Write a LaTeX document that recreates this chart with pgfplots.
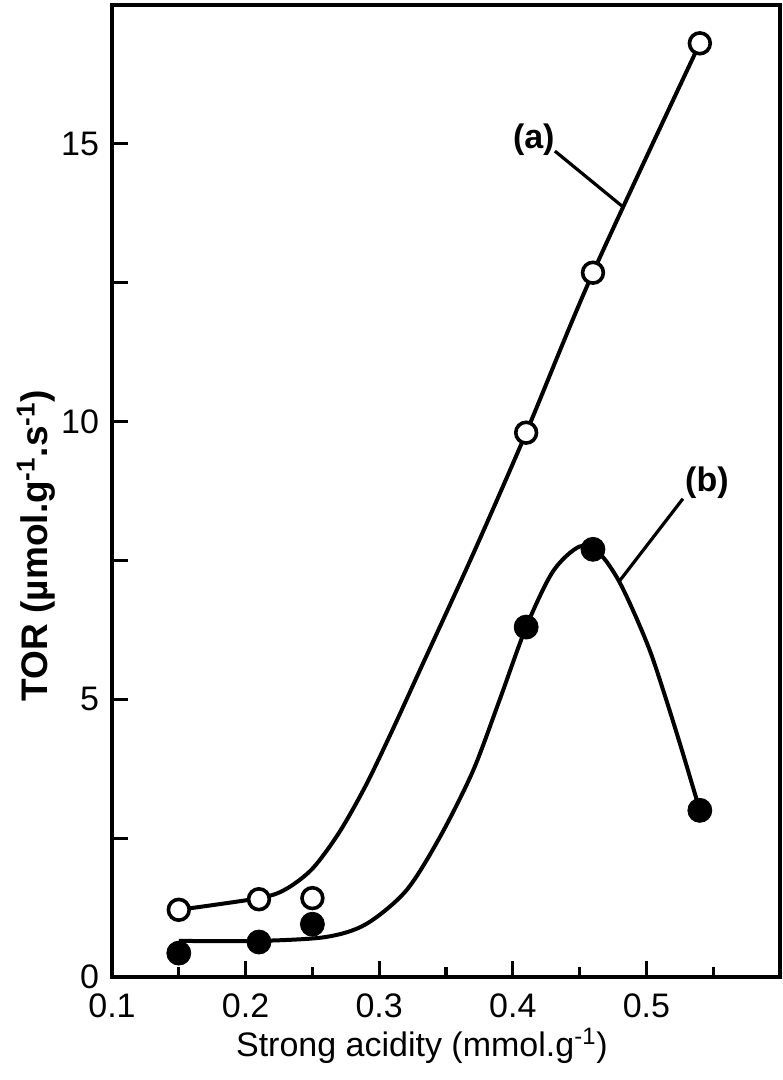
\documentclass[border=0pt]{standalone}
\usepackage{pgfplots}
\pgfplotsset{compat=1.18}
\usepackage{fontspec}
\setmainfont{Liberation Sans}
\begin{document}
\begin{tikzpicture}
\begin{axis}[
	name=ax,
	scale only axis,
	width=334pt, height=486pt,
	xmin=0.1, xmax=0.6,
	ymin=0, ymax=17.5,
	axis line style={line width=2pt},
	tick style={line width=1.6pt, black},
	tick align=inside,
	xtick pos=left, ytick pos=left,
	xtick={0.1,0.2,0.3,0.4,0.5},
	minor xtick={0.15,0.25,0.35,0.45,0.55},
	ytick={0,5,10,15},
	extra y ticks={2.5,7.5,12.5},
	extra y tick labels={},
	major tick length=8pt, minor tick length=5pt,
	font=\fontsize{17}{20}\selectfont,
	xticklabel style={/pgf/number format/fixed, /pgf/number format/precision=1, yshift=-5pt},
	yticklabel style={xshift=-3pt},
	/pgf/number format/assume math mode=true,
	xlabel={Strong acidity (mmol.g\textsuperscript{-1})},
	ylabel={TOR (µmol.g\textsuperscript{-1}.s\textsuperscript{-1})},
	x label style={at={(axis description cs:0.464,0)}, anchor=north, yshift=-22pt},
	y label style={at={(axis description cs:0,0.444)}, anchor=south, yshift=25pt,
		font=\bfseries\fontsize{18.5}{22}\selectfont},
	clip=false,
]
% curve (a)
\addplot[line width=2pt, smooth, tension=0.5] coordinates {
	(0.15,1.21) (0.21,1.42) (0.23,1.58) (0.25,1.95) (0.27,2.6)
	(0.29,3.45) (0.31,4.45) (0.33,5.5) (0.37,7.6) (0.41,9.80)
	(0.46,12.68) (0.54,16.81)
};
% curve (b)
\addplot[line width=2pt, smooth, tension=0.5] coordinates {
	(0.15,0.65) (0.21,0.65) (0.26,0.72) (0.29,0.95) (0.32,1.55)
	(0.345,2.5) (0.37,3.7) (0.39,4.98) (0.41,6.30) (0.43,7.3)
	(0.45,7.75) (0.465,7.62) (0.478,7.19) (0.49,6.6)
	(0.503,5.85) (0.515,4.98) (0.527,4.05) (0.54,3.0)
};
% points (a)
\addplot[only marks, mark=*, mark size=5.2pt,
	mark options={fill=white, draw=black, line width=1.8pt}] coordinates {
	(0.15,1.21) (0.21,1.40) (0.25,1.42) (0.41,9.80) (0.46,12.68) (0.54,16.81)
};
% points (b)
\addplot[only marks, mark=*, mark size=6pt,
	mark options={fill=black, draw=black}] coordinates {
	(0.15,0.43) (0.21,0.63) (0.25,0.95) (0.41,6.30) (0.46,7.70) (0.54,3.0)
};
\node[font=\bfseries\fontsize{17}{20}\selectfont] at (axis cs:0.4157,15.07) {(a)};
\draw[line width=1.6pt] (axis cs:0.4315,14.87) -- (axis cs:0.4817,13.88);
\node[font=\bfseries\fontsize{17}{20}\selectfont] at (axis cs:0.5453,8.90) {(b)};
\draw[line width=1.6pt] (axis cs:0.5273,8.61) -- (axis cs:0.4802,7.14);
\end{axis}
\path (ax.south west) ++(-56pt,-51.5pt) rectangle ([shift={(1pt,2.5pt)}]ax.north east);
\end{tikzpicture}
\end{document}
